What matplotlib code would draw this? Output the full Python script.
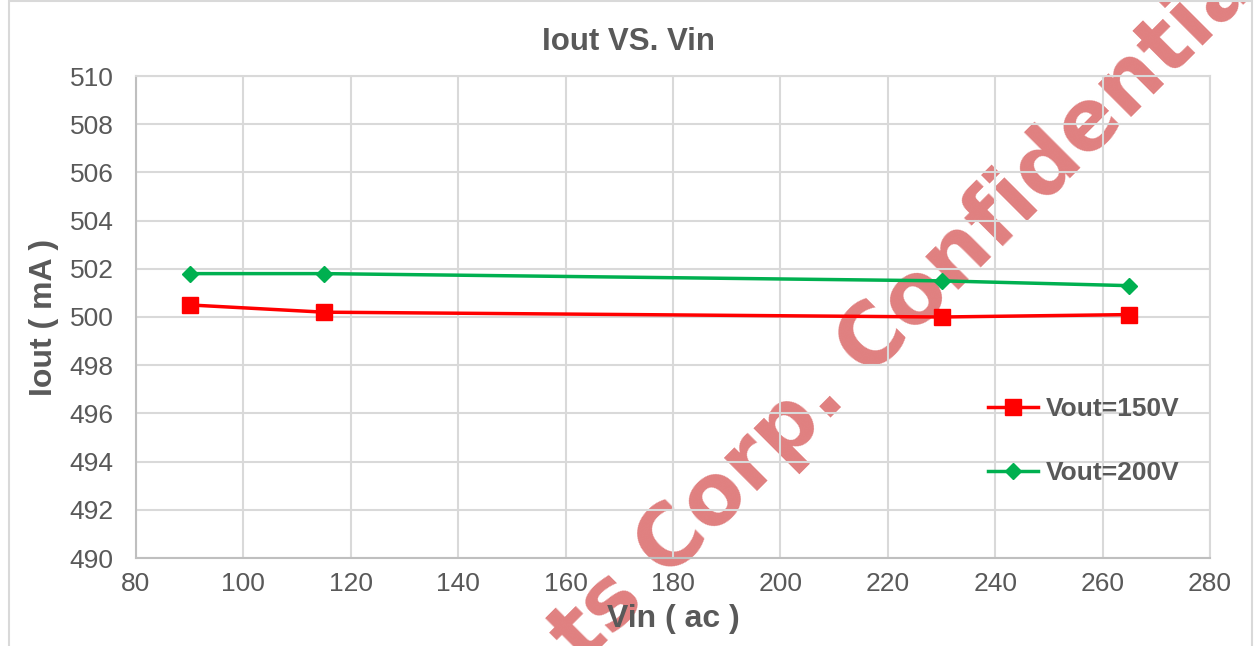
import matplotlib
matplotlib.use("Agg")
import matplotlib.pyplot as plt
from matplotlib.patches import Rectangle

# data
vin = [90, 115, 230, 265]
iout_150 = [500.5, 500.2, 500.0, 500.1]
iout_200 = [501.8, 501.8, 501.5, 501.3]
labels = ["Vout=150V", "Vout=200V"]

x_ticks = list(range(80, 281, 20))
y_ticks = list(range(490, 511, 2))

grey = "#595959"
plt.rcParams["font.family"] = ["Liberation Sans", "DejaVu Sans"]

fig = plt.figure(figsize=(12.58, 6.46), dpi=100)
ax = fig.add_axes([136 / 1258, 88 / 646, 1074 / 1258, 482 / 646])
ax.patch.set_alpha(0)

# chart area border
fig.patches.append(Rectangle((9 / 1258, -0.1), 1243 / 1258, 1.098,
                             transform=fig.transFigure, fill=False,
                             edgecolor="#D9D9D9", linewidth=1.5))

# watermark, behind everything
fig.text(0.7265, 0.535, "ts Corp. Confidential", rotation=45,
         ha="center", va="center", fontsize=61, fontweight="bold",
         family="DejaVu Sans", color="#E08080", zorder=-5)

ax.plot(vin, iout_150, color="#FF0000", lw=2.5, marker="s", ms=11,
        label=labels[0], zorder=3)
ax.plot(vin, iout_200, color="#00B050", lw=2.5, marker="D", ms=8,
        label=labels[1], zorder=3)

ax.set_xlim(80, 280)
ax.set_ylim(490, 510)
ax.set_xticks(x_ticks)
ax.set_yticks(y_ticks)
ax.grid(True, color="#D9D9D9", lw=1.5)
ax.set_axisbelow(True)
for s in ["top", "right"]:
    ax.spines[s].set_color("#D9D9D9")
    ax.spines[s].set_linewidth(1.5)
for s in ["left", "bottom"]:
    ax.spines[s].set_color("#BFBFBF")
    ax.spines[s].set_linewidth(1.5)
ax.tick_params(length=0, labelsize=19, labelcolor=grey)
ax.tick_params(axis="y", pad=16)
ax.tick_params(axis="x", pad=10)

fig.text(0.5, 0.935, "Iout VS. Vin", ha="center", va="center",
         fontsize=22.5, fontweight="bold", color=grey)
ax.set_xlabel("Vin ( ac )", fontsize=23, fontweight="bold", color=grey,
              labelpad=6)
ax.set_ylabel("Iout ( mA )", fontsize=23, fontweight="bold", color=grey,
              labelpad=8)

leg = ax.legend(loc="upper left", bbox_to_anchor=(0.793, 0.333),
                frameon=False, borderaxespad=0, borderpad=0,
                handlelength=1.9, handletextpad=0.3, labelspacing=1.5,
                prop={"size": 19, "weight": "bold"})
for t in leg.get_texts():
    t.set_color(grey)

fig.savefig("out.png", dpi=100)
